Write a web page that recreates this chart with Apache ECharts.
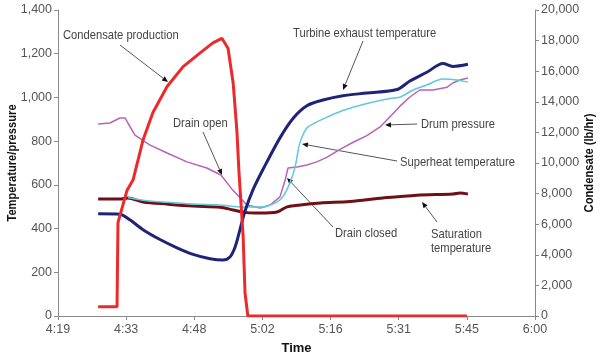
<!DOCTYPE html>
<html>
<head>
<meta charset="utf-8">
<script src="https://cdn.jsdelivr.net/npm/echarts@6/dist/echarts.min.js"></script>
<style>
  html, body { margin: 0; padding: 0; background: #fff; }
  #main { width: 600px; height: 353px; }
</style>
</head>
<body>
<div id="main"></div>
<script>
// x = minutes after 4:19
var timeLabels = ['4:19', '4:33', '4:48', '5:02', '5:16', '5:31', '5:45', '6:00']

// Condensate production (lb/hr), right axis
var condensate = [[8.5,600],[12.5,600],[12.7,6100],[14.6,8200],[15.9,8900],[18.0,11500],[20.1,13300],[23.1,15000],[26.5,16300],[30.1,17200],[32.8,17850],[34.7,18150],[36.0,17500],[37.1,15200],[37.9,12000],[38.3,9500],[39.2,5200],[39.6,1500],[40.2,0],[86.6,0]]

// Turbine exhaust temperature
var turbine = [[8.5,468],[13.1,466],[15.2,440],[18.0,395],[21.6,350],[25.2,312],[28.6,282],[32.2,262],[34.9,256],[36.4,270],[37.5,316],[38.5,393],[39.6,480],[41.3,578],[43.4,670],[47.0,815],[49.8,905],[52.7,962],[56.1,988],[60.3,1008],[65.4,1020],[71.8,1036],[74.5,1075],[78.1,1115],[81.5,1155],[83.6,1142],[86.8,1152]]

// Saturation temperature
var saturation = [[8.5,535],[13.1,535],[14.8,540],[18.0,522],[23.1,512],[28.6,503],[34.3,498],[37.1,485],[40.0,473],[42.7,471],[46.4,476],[48.5,499],[51.3,508],[55.6,517],[61.8,524],[68.8,540],[76.0,553],[83.6,558],[85.1,563],[86.8,558]]

// Superheat temperature
var superheat = [[14.8,542],[18.0,530],[23.1,520],[28.6,512],[34.3,508],[37.9,500],[40.0,499],[43.4,499],[46.4,522],[47.6,545],[49.1,608],[50.2,682],[51.2,791],[52.7,860],[54.3,882],[57.0,910],[60.3,940],[65.4,972],[70.9,997],[72.5,1002],[75.2,1034],[78.1,1057],[81.5,1084],[84.5,1080],[86.8,1070]]

// Drum pressure
var drum = [[8.5,878],[11.0,883],[13.1,906],[14.2,906],[14.8,883],[16.3,828],[19.5,782],[23.1,746],[27.3,705],[31.5,677],[34.5,645],[37.0,576],[40.0,508],[42.8,494],[44.9,508],[47.0,545],[48.1,622],[48.7,677],[50.6,682],[52.7,691],[54.8,705],[57.0,727],[59.7,762],[62.5,795],[65.4,825],[68.2,865],[70.9,925],[72.4,960],[74.5,1002],[76.6,1034],[79.4,1034],[82.4,1047],[83.6,1066],[85.1,1080],[86.8,1089]]

var fnt = '"Liberation Sans", Arial, sans-serif'
var step = 101 / 7

function arrow(x1, y1, x2, y2) {
  var a = Math.atan2(y2 - y1, x2 - x1)
  var L = 6, W = 2.6
  var bx = x2 - L * Math.cos(a), by = y2 - L * Math.sin(a)
  var px = -Math.sin(a) * W, py = Math.cos(a) * W
  return [
    { type: 'line', silent: true, shape: { x1: x1, y1: y1, x2: bx, y2: by }, style: { stroke: '#555', lineWidth: 1 } },
    { type: 'polygon', silent: true, shape: { points: [[x2, y2], [bx + px, by + py], [bx - px, by - py]] }, style: { fill: '#111' } }
  ]
}

// condensed look: squeeze the text horizontally
function txt(s, x, y) {
  return { type: 'text', silent: true, x: x, y: y, scaleX: 0.86,
    style: { text: s, x: 0, y: 0, fill: '#444', font: '13px ' + fnt, verticalAlign: 'middle' } }
}

// rotated bold axis titles
function vtitle(s, x, y) {
  return { type: 'text', silent: true, x: x, y: y, rotation: Math.PI / 2, scaleX: 0.86,
    style: { text: s, x: 0, y: 0, fill: '#111', font: 'bold 13px ' + fnt, align: 'center', verticalAlign: 'middle' } }
}

var notes = [
  txt('Condensate production', 63, 35),
  txt('Turbine exhaust temperature', 293, 33),
  txt('Drain open', 173, 123),
  txt('Drum pressure', 421, 124),
  txt('Superheat temperature', 400, 162),
  txt('Drain closed', 335, 233),
  txt('Saturation', 431, 234),
  txt('temperature', 431, 248),
  vtitle('Temperature/pressure', 12, 163),
  vtitle('Condensate (lb/hr)', 589, 163)
]
notes = notes.concat(arrow(120, 45, 168, 82))
notes = notes.concat(arrow(363, 41, 343, 90))
notes = notes.concat(arrow(203, 132, 222, 175))
notes = notes.concat(arrow(417, 124, 385, 125))
notes = notes.concat(arrow(397, 161, 302, 144))
notes = notes.concat(arrow(333, 227, 287, 178))
notes = notes.concat(arrow(437, 222, 422, 202))

var axisStyle = { lineStyle: { color: '#8a8a8a', width: 1 } }
var labelStyle = { color: '#555', fontSize: 12.5, fontFamily: fnt }
var nameStyle = { fontWeight: 'bold', fontSize: 13, color: '#111', fontFamily: fnt }

var myChart = echarts.init(document.getElementById('main'))
myChart.setOption({
  animation: false,
  grid: { left: 58, right: 65, top: 10, bottom: 37, containLabel: false, outerBoundsMode: 'none' },
  xAxis: {
    type: 'value', min: 0, max: 101, interval: step,
    name: 'Time', nameLocation: 'middle', nameGap: 26, nameTextStyle: nameStyle,
    axisLine: axisStyle, axisTick: { show: true, length: 4, lineStyle: { color: '#8a8a8a' } },
    splitLine: { show: false },
    axisLabel: Object.assign({ margin: 7, formatter: function (v) { return timeLabels[Math.round(v / step)] } }, labelStyle)
  },
  yAxis: [
    {
      type: 'value', min: 0, max: 1400, interval: 200, position: 'left',
      axisLine: Object.assign({ show: true }, axisStyle), axisTick: { show: true, length: 4, lineStyle: { color: '#8a8a8a' } },
      splitLine: { show: false },
      axisLabel: Object.assign({ margin: 6 }, labelStyle)
    },
    {
      type: 'value', min: 0, max: 20000, interval: 2000, position: 'right',
      axisLine: Object.assign({ show: true }, axisStyle), axisTick: { show: true, length: 4, lineStyle: { color: '#8a8a8a' } },
      splitLine: { show: false },
      axisLabel: Object.assign({ margin: 6 }, labelStyle)
    }
  ],
  series: [
    { name: 'Drum pressure', type: 'line', data: drum, showSymbol: false, lineStyle: { color: '#b862b8', width: 1.5 } },
    { name: 'Saturation temperature', type: 'line', data: saturation, showSymbol: false, smooth: 0.3, lineStyle: { color: '#6e1016', width: 3 } },
    { name: 'Superheat temperature', type: 'line', data: superheat, showSymbol: false, smooth: 0.3, lineStyle: { color: '#5fc9da', width: 1.5 } },
    { name: 'Turbine exhaust temperature', type: 'line', data: turbine, showSymbol: false, smooth: 0.3, lineStyle: { color: '#1e2378', width: 3 } },
    { name: 'Condensate production', type: 'line', yAxisIndex: 1, data: condensate, showSymbol: false, lineStyle: { color: '#ec2a2c', width: 3 } }
  ],
  graphic: notes
})
</script>
</body>
</html>
